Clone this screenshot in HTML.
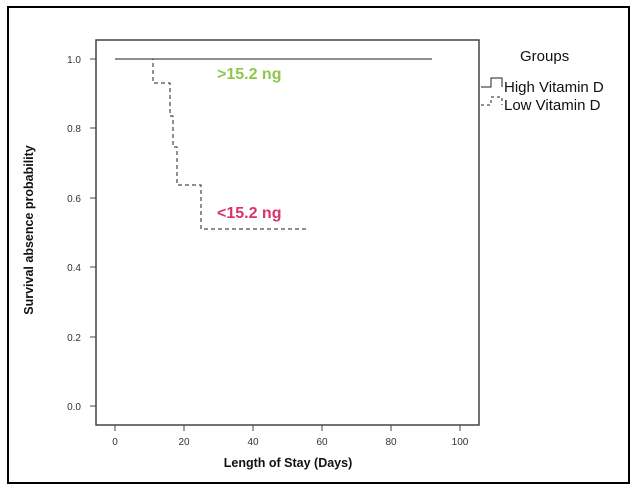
<!DOCTYPE html>
<html><head><style>body{margin:0;background:#fff}svg{display:block}</style></head><body>
<svg width="639" height="491" xmlns="http://www.w3.org/2000/svg" font-family="Liberation Sans, sans-serif">
<rect x="0" y="0" width="639" height="491" fill="#fff"/>
<rect x="8" y="7" width="621" height="476" fill="none" stroke="#000" stroke-width="2"/>
<rect x="96" y="40" width="383" height="385" fill="none" stroke="#444" stroke-width="1.5"/>
<g stroke="#444" stroke-width="1">
<line x1="90" y1="59" x2="96" y2="59"/><line x1="90" y1="128" x2="96" y2="128"/><line x1="90" y1="198" x2="96" y2="198"/><line x1="90" y1="267" x2="96" y2="267"/><line x1="90" y1="337" x2="96" y2="337"/><line x1="90" y1="406" x2="96" y2="406"/>
<line x1="115" y1="425" x2="115" y2="431"/><line x1="184" y1="425" x2="184" y2="431"/><line x1="253" y1="425" x2="253" y2="431"/><line x1="322" y1="425" x2="322" y2="431"/><line x1="391" y1="425" x2="391" y2="431"/><line x1="460" y1="425" x2="460" y2="431"/>
</g>
<g font-size="10" fill="#333" text-anchor="end">
<text x="81" y="63">1.0</text><text x="81" y="132">0.8</text><text x="81" y="202">0.6</text><text x="81" y="271">0.4</text><text x="81" y="341">0.2</text><text x="81" y="410">0.0</text>
</g>
<g font-size="10" fill="#333" text-anchor="middle">
<text x="115" y="445">0</text><text x="184" y="445">20</text><text x="253" y="445">40</text><text x="322" y="445">60</text><text x="391" y="445">80</text><text x="460" y="445">100</text>
</g>
<text x="288" y="467" font-size="12.5" font-weight="bold" text-anchor="middle" fill="#111">Length of Stay (Days)</text>
<text transform="translate(33,230) rotate(-90)" font-size="12.5" font-weight="bold" text-anchor="middle" fill="#111">Survival absence probability</text>
<line x1="115" y1="59" x2="432" y2="59" stroke="#222" stroke-width="1"/>
<polyline points="115,59 153,59 153,83 170,83 170,116 173,116 173,147 177,147 177,185 201,185 201,229 308,229" fill="none" stroke="#222" stroke-width="1" stroke-dasharray="4,3"/>
<text x="217" y="79" font-size="16" font-weight="bold" fill="#8cc84b">&gt;15.2 ng</text>
<text x="217" y="218" font-size="16" font-weight="bold" fill="#d8336a">&lt;15.2 ng</text>
<text x="520" y="61" font-size="15" fill="#111">Groups</text>
<polyline points="481,87 491,87 491,78 502,78 502,87" fill="none" stroke="#222" stroke-width="1"/>
<polyline points="481,105 491,105 491,97 502,97 502,105" fill="none" stroke="#222" stroke-width="1" stroke-dasharray="3,3"/>
<text x="504" y="92" font-size="15" fill="#111">High Vitamin D</text>
<text x="504" y="110" font-size="15" fill="#111">Low Vitamin D</text>
</svg>
</body></html>
